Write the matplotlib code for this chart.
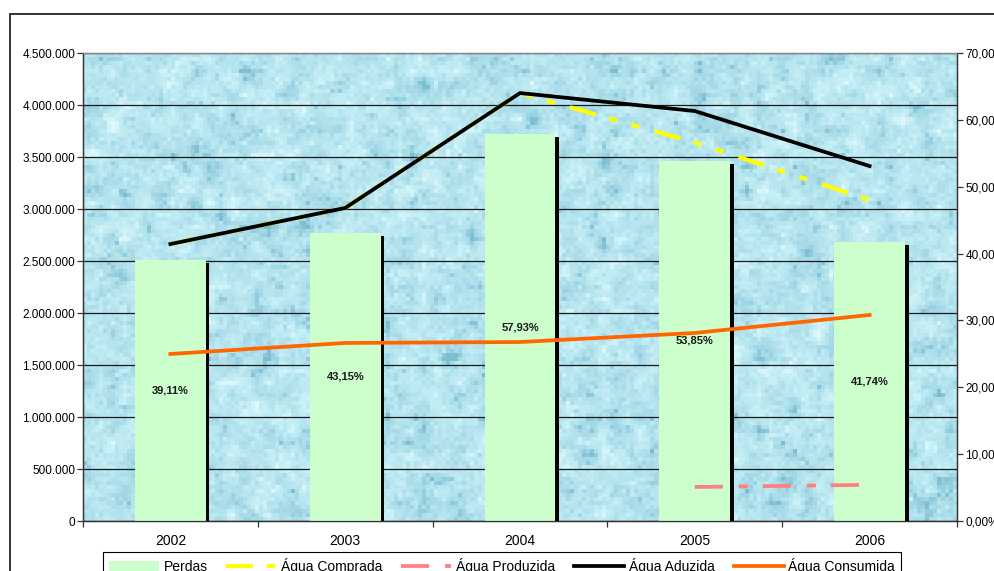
import numpy as np
import matplotlib
matplotlib.use('Agg')
import matplotlib.pyplot as plt
from matplotlib.colors import LinearSegmentedColormap
from matplotlib.patches import Patch, Rectangle
import matplotlib.patheffects as pe

plt.rcParams['font.family'] = ['Liberation Sans', 'DejaVu Sans']
plt.rcParams['lines.scale_dashes'] = False

# ---------------------------------------------------------------------------
# dados
# ---------------------------------------------------------------------------
anos = ['2002', '2003', '2004', '2005', '2006']
perdas = [39.11, 43.15, 57.93, 53.85, 41.74]                       # %
agua_comprada = [2663000, 3010000, 4115000, 3639000, 3087000]
agua_produzida = [np.nan, np.nan, np.nan, 327000, 348000]
agua_aduzida = [2663000, 3010000, 4115000, 3942000, 3413000]
agua_consumida = [1606000, 1712000, 1721000, 1808000, 1981000]

# cores (paleta Excel)
COR_PERDAS = '#ccffcc'
COR_COMPRADA = '#ffff00'
COR_PRODUZIDA = '#ff8080'
COR_ADUZIDA = '#000000'
COR_CONSUMIDA = '#ff6600'

fig = plt.figure(figsize=(9.94, 5.71), dpi=100)
fig.patch.set_facecolor('white')

# moldura da área do gráfico
fig.patches.append(Rectangle((10 / 994, -0.5), 2.0, 0.5 + 1 - 14 / 571,
                             transform=fig.transFigure, fill=False,
                             edgecolor='#333333', linewidth=1.4))

ax = fig.add_axes([83 / 994, 1 - 521 / 571, 874 / 994, 468 / 571])
x = np.arange(len(anos))
ax.set_xlim(-0.5, len(anos) - 0.5)
ax.set_ylim(0, 4500000)

# fundo com textura "água"
rng = np.random.default_rng(11)
h, w = 117, 219
fino = rng.normal(size=(h, w))
grosso = rng.normal(size=(h // 3 + 1, w // 3 + 1))
grosso = np.kron(grosso, np.ones((3, 3)))[:h, :w]
k = np.ones(3) / 3
grosso = np.apply_along_axis(lambda r: np.convolve(r, k, mode='same'), 1, grosso)
grosso = np.apply_along_axis(lambda c: np.convolve(c, k, mode='same'), 0, grosso)
textura = 0.7 * fino + 1.2 * grosso
textura = np.clip((textura - textura.mean()) / (3 * textura.std()), -1, 1) * 0.5 + 0.5
cmap_agua = LinearSegmentedColormap.from_list(
    'agua', ['#7cbdd1', '#a4d8e6', '#b6e5ef', '#c6eff6', '#dcf8fb'])
ax.imshow(textura, cmap=cmap_agua, extent=(-0.5, len(anos) - 0.5, 0, 4500000),
          aspect='auto', interpolation='nearest', zorder=0)

# grade horizontal
ax.set_yticks(np.arange(0, 4500001, 500000))
ax.set_yticklabels([f'{int(v):,}'.replace(',', '.') for v in ax.get_yticks()])
ax.grid(True, axis='y', color='#1a1a1a', linewidth=0.9, zorder=1)

# eixo x: marcas entre categorias, rótulos no centro
ax.set_xticks(np.arange(-0.5, len(anos), 1.0))
ax.set_xticklabels([])
ax.set_xticks(x, minor=True)
ax.set_xticklabels(anos, minor=True, fontsize=10)
ax.tick_params(axis='x', which='major', direction='out', length=4, width=0.9, color='#333333')
ax.tick_params(axis='x', which='minor', length=0, pad=9.5)
ax.tick_params(axis='y', direction='out', length=4, width=0.9, color='#333333',
               labelsize=8.5, pad=1.5)

for s in ax.spines.values():
    s.set_color('#333333')
    s.set_linewidth(0.9)
ax.spines['top'].set_color('#888888')

# ---------------------------------------------------------------------------
# barras - perdas (eixo secundário em %)
# ---------------------------------------------------------------------------
ax2 = ax.twinx()
ax2.set_ylim(0, 70)
sombra = [pe.SimplePatchShadow(offset=(2.6, -2.2), shadow_rgbFace='black', alpha=1.0),
          pe.Normal()]
barras = ax2.bar(x, perdas, width=0.406, color=COR_PERDAS, edgecolor='none',
                 path_effects=sombra, zorder=1)
for xi, p in zip(x, perdas):
    ax2.text(xi, p / 2, f'{p:.2f}%'.replace('.', ','), ha='center', va='center',
             fontsize=8, fontweight='bold', color='#1a1a1a', zorder=2)

ax2.set_yticks(np.arange(0, 71, 10))
ax2.set_yticklabels([f'{t:.2f}%'.replace('.', ',') for t in np.arange(0, 71, 10)])
ax2.tick_params(axis='y', direction='out', length=4, width=0.9, color='#333333',
                labelsize=8.5, pad=2)
for s in ax2.spines.values():
    s.set_color('#333333')
    s.set_linewidth(0.9)
ax2.spines['top'].set_color('#888888')

# ---------------------------------------------------------------------------
# linhas - volumes (eixo principal)
# ---------------------------------------------------------------------------
ax3 = ax.twinx()
ax3.set_ylim(0, 4500000)
ax3.axis('off')

l_comp, = ax3.plot(x, agua_comprada, color=COR_COMPRADA, linewidth=3.0,
                   linestyle=(0, (19.4, 10.0, 5.8, 10.8, 5.8, 11.5)), zorder=3)
l_prod, = ax3.plot(x, agua_produzida, color=COR_PRODUZIDA, linewidth=2.7,
                   linestyle=(0, (20.2, 11.5, 6.5, 10.8)), zorder=3)
l_adu, = ax3.plot(x, agua_aduzida, color=COR_ADUZIDA, linewidth=2.7, zorder=4)
l_cons, = ax3.plot(x, agua_consumida, color=COR_CONSUMIDA, linewidth=2.7, zorder=4)

# ---------------------------------------------------------------------------
# legenda
# ---------------------------------------------------------------------------
handles = [Patch(facecolor=COR_PERDAS, edgecolor='none'), l_comp, l_prod, l_adu, l_cons]
labels = ['Perdas', 'Água Comprada', 'Água Produzida', 'Água Aduzida', 'Água Consumida']
leg = fig.legend(handles, labels, loc='upper left',
                 bbox_to_anchor=(103 / 994, 1 - 552 / 571), ncol=5, fontsize=10,
                 frameon=True, fancybox=False, framealpha=1, edgecolor='black',
                 borderaxespad=0, borderpad=0.4, handlelength=3.6,
                 handletextpad=0.35, columnspacing=1.35)
leg.get_frame().set_linewidth(0.8)

fig.savefig('out.png', dpi=100, facecolor='white')
